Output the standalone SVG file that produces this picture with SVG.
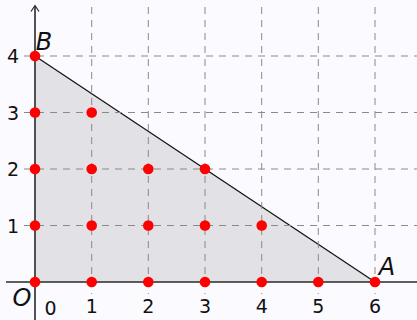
<svg xmlns="http://www.w3.org/2000/svg" width="417" height="320" viewBox="0 0 417 320">
<style>
.grid{stroke:#8a8a8a;stroke-width:1;stroke-dasharray:7 6;fill:none}
.axis{stroke:#2a2a2a;stroke-width:1.6;fill:none}
.pt{fill:#ff0000}
.num{font-family:"DejaVu Sans",sans-serif;font-size:19px;fill:#111}
.lbl{font-family:"DejaVu Sans",sans-serif;font-size:24px;font-style:italic;fill:#111}
</style>
<rect x="0" y="0" width="417" height="320" fill="#fafaff"/>
<g id="region">
<polygon points="35,282 375,282 35,56" fill="#e1e1e6"/>
<line x1="35" y1="56" x2="375" y2="282" stroke="#111" stroke-width="1.2"/>
</g>
<g id="grid" class="grid">
<line x1="24" y1="225.5" x2="417" y2="225.5"/>
<line x1="24" y1="169" x2="417" y2="169"/>
<line x1="24" y1="112.5" x2="417" y2="112.5"/>
<line x1="24" y1="56" x2="417" y2="56"/>
<line x1="91.7" y1="7" x2="91.7" y2="294"/>
<line x1="148.3" y1="7" x2="148.3" y2="294"/>
<line x1="205" y1="7" x2="205" y2="294"/>
<line x1="261.7" y1="7" x2="261.7" y2="294"/>
<line x1="318.3" y1="7" x2="318.3" y2="294"/>
<line x1="375" y1="7" x2="375" y2="294"/>
</g>
<g id="axes" class="axis">
<line x1="6" y1="282" x2="417" y2="282"/>
<line x1="35" y1="320" x2="35" y2="6"/>
<polyline points="31,11.5 35,5.5 39,11.5" stroke-width="1.2"/>
</g>
<g id="labels">
<text class="num" x="13" y="63" text-anchor="middle">4</text>
<text class="num" x="13" y="119.5" text-anchor="middle">3</text>
<text class="num" x="13" y="176" text-anchor="middle">2</text>
<text class="num" x="13" y="232.5" text-anchor="middle">1</text>
<text class="num" x="50.5" y="315" text-anchor="middle">0</text>
<text class="num" x="91.7" y="313" text-anchor="middle">1</text>
<text class="num" x="148.3" y="313" text-anchor="middle">2</text>
<text class="num" x="205" y="313" text-anchor="middle">3</text>
<text class="num" x="261.7" y="313" text-anchor="middle">4</text>
<text class="num" x="318.3" y="313" text-anchor="middle">5</text>
<text class="num" x="375" y="313" text-anchor="middle">6</text>
</g>
<g id="O"><circle class="pt" cx="35" cy="282" r="5.3"/><text class="lbl" x="22" y="306" text-anchor="middle">O</text></g>
<g id="A"><circle class="pt" cx="375" cy="282" r="5.3"/><text class="lbl" x="387" y="275" text-anchor="middle">A</text></g>
<g id="B"><circle class="pt" cx="35" cy="56" r="5.3"/><text class="lbl" x="44" y="50" text-anchor="middle">B</text></g>
<g id="p10"><circle class="pt" cx="91.7" cy="282" r="5.3"/></g>
<g id="p20"><circle class="pt" cx="148.3" cy="282" r="5.3"/></g>
<g id="p30"><circle class="pt" cx="205" cy="282" r="5.3"/></g>
<g id="p40"><circle class="pt" cx="261.7" cy="282" r="5.3"/></g>
<g id="p50"><circle class="pt" cx="318.3" cy="282" r="5.3"/></g>
<g id="p01"><circle class="pt" cx="35" cy="225.5" r="5.3"/></g>
<g id="p11"><circle class="pt" cx="91.7" cy="225.5" r="5.3"/></g>
<g id="p21"><circle class="pt" cx="148.3" cy="225.5" r="5.3"/></g>
<g id="p31"><circle class="pt" cx="205" cy="225.5" r="5.3"/></g>
<g id="p41"><circle class="pt" cx="261.7" cy="225.5" r="5.3"/></g>
<g id="p02"><circle class="pt" cx="35" cy="169" r="5.3"/></g>
<g id="p12"><circle class="pt" cx="91.7" cy="169" r="5.3"/></g>
<g id="p22"><circle class="pt" cx="148.3" cy="169" r="5.3"/></g>
<g id="p32"><circle class="pt" cx="205" cy="169" r="5.3"/></g>
<g id="p03"><circle class="pt" cx="35" cy="112.5" r="5.3"/></g>
<g id="p13"><circle class="pt" cx="91.7" cy="112.5" r="5.3"/></g>
</svg>
